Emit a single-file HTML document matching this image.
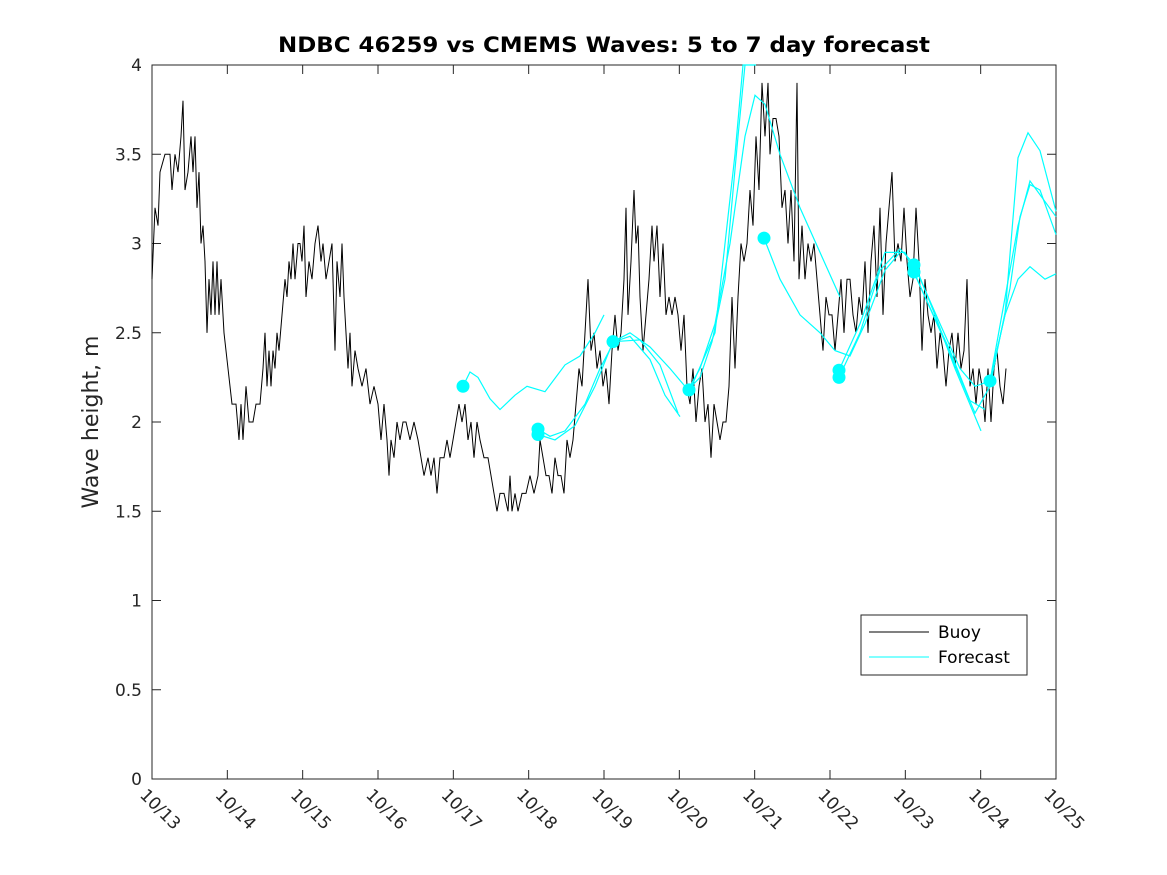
<!DOCTYPE html>
<html><head><meta charset="utf-8"><style>body{margin:0;background:#fff}svg{display:block}</style></head>
<body>
<svg id="s" width="1167" height="875" xmlns="http://www.w3.org/2000/svg" font-family="DejaVu Sans, Liberation Sans, sans-serif">
<rect width="1167" height="875" fill="#fff"/>
<rect x="152" y="65" width="904" height="714" fill="#fff" stroke="#262626" stroke-width="1"/>
<g id="ticks" stroke="#262626" stroke-width="1"></g>
<g id="lbl" font-size="17" fill="#262626"></g>
<g id="buoy"></g>
<g id="fc"></g>
<text x="604" y="52" text-anchor="middle" font-size="21" font-weight="bold" fill="#000" textLength="652" lengthAdjust="spacingAndGlyphs">NDBC 46259 vs CMEMS Waves: 5 to 7 day forecast</text>
<text transform="translate(98,422) rotate(-90)" text-anchor="middle" font-size="22" fill="#262626">Wave height, m</text>
<rect x="861" y="615" width="166" height="60" fill="#fff" stroke="#262626"/>
<line x1="869" y1="632" x2="929" y2="632" stroke="#000"/>
<line x1="869" y1="657" x2="929" y2="657" stroke="#00ffff"/>
<text x="938" y="638" font-size="17" fill="#000">Buoy</text>
<text x="938" y="663" font-size="17" fill="#000">Forecast</text>
</svg>
<script>
const NS="http://www.w3.org/2000/svg";
const Y=v=>779-v*178.5;
function el(p,t,a){const e=document.createElementNS(NS,t);for(const k in a)e.setAttribute(k,a[k]);document.getElementById(p).appendChild(e);return e;}
for(let i=0;i<=8;i++){const v=i*0.5,y=Y(v);
 el("ticks","line",{x1:152,y1:y,x2:161,y2:y});el("ticks","line",{x1:1056,y1:y,x2:1047,y2:y});
 const t=el("lbl","text",{x:142,y:y+6,"text-anchor":"end"});t.textContent=String(v);}
for(let i=0;i<=12;i++){const x=152+i*904/12;
 el("ticks","line",{x1:x,y1:779,x2:x,y2:770});el("ticks","line",{x1:x,y1:65,x2:x,y2:74});
 const t=el("lbl","text",{transform:`translate(${x-13},${796}) rotate(45)`});t.textContent="10/"+(13+i);}
const b=[152,2.8,155,3.2,158,3.1,160,3.4,165,3.5,170,3.5,172,3.3,175,3.5,178,3.4,181,3.6,183,3.8,185,3.3,188,3.4,191,3.6,193,3.4,195,3.6,197,3.2,199,3.4,201,3.0,203,3.1,205,2.9,207,2.5,209,2.8,211,2.6,213,2.9,215,2.6,217,2.9,219,2.6,221,2.8,224,2.5,228,2.3,232,2.1,236,2.1,239,1.9,241,2.1,243,1.9,246,2.2,249,2.0,253,2.0,256,2.1,260,2.1,263,2.3,265,2.5,267,2.2,269,2.4,271,2.2,273,2.4,275,2.3,277,2.5,279,2.4,282,2.6,285,2.8,287,2.7,289,2.9,291,2.8,293,3.0,295,2.8,298,3.0,300,3.0,302,2.9,304,3.1,306,2.7,309,2.9,312,2.8,315,3.0,318,3.1,321,2.9,323,3.0,326,2.8,329,2.9,332,3.0,335,2.4,337,2.9,340,2.7,342,3.0,344,2.7,346,2.5,348,2.3,350,2.5,352,2.2,355,2.4,358,2.3,362,2.2,366,2.3,370,2.1,374,2.2,378,2.1,381,1.9,384,2.1,387,1.9,389,1.7,391,1.9,394,1.8,397,2.0,400,1.9,403,2.0,406,2.0,410,1.9,414,2.0,418,1.9,421,1.8,424,1.7,428,1.8,431,1.7,434,1.8,437,1.6,440,1.8,444,1.8,447,1.9,450,1.8,453,1.9,456,2.0,459,2.1,462,2.0,465,2.1,468,1.9,471,2.0,474,1.8,477,2.0,480,1.9,484,1.8,488,1.8,491,1.7,494,1.6,497,1.5,500,1.6,504,1.6,508,1.5,510,1.7,512,1.5,515,1.6,518,1.5,522,1.6,526,1.6,530,1.7,534,1.6,538,1.7,540,1.9,543,1.8,546,1.7,549,1.7,552,1.6,555,1.8,558,1.7,561,1.7,564,1.6,567,1.9,570,1.8,573,1.9,576,2.1,579,2.3,582,2.2,585,2.5,588,2.8,591,2.4,594,2.5,597,2.3,600,2.4,603,2.2,606,2.3,609,2.1,612,2.4,615,2.6,618,2.4,621,2.5,624,2.8,626,3.2,628,2.6,631,2.9,634,3.3,636,3.0,638,3.1,640,2.7,643,2.4,646,2.6,649,2.8,652,3.1,654,2.9,657,3.1,660,2.7,663,3.0,666,2.6,669,2.7,672,2.6,675,2.7,678,2.6,681,2.4,684,2.6,687,2.2,690,2.1,693,2.3,696,2.0,699,2.2,702,2.3,705,2.0,708,2.1,711,1.8,714,2.1,717,2.0,720,1.9,723,2.0,726,2.0,729,2.2,732,2.7,735,2.3,738,2.7,741,3.0,744,2.9,747,3.0,750,3.3,753,3.1,756,3.6,759,3.3,762,3.9,765,3.6,768,3.9,770,3.5,773,3.7,776,3.7,779,3.6,782,3.2,785,3.3,788,3.0,791,3.3,794,2.9,797,3.9,799,2.8,802,3.1,805,2.8,808,3.0,811,2.9,814,3.0,817,2.8,820,2.6,823,2.4,826,2.7,829,2.6,832,2.6,835,2.4,838,2.6,841,2.8,844,2.5,847,2.8,850,2.8,853,2.6,856,2.5,859,2.7,862,2.6,865,2.9,868,2.5,871,2.9,874,3.1,877,2.7,880,3.2,883,2.6,886,3.0,889,3.2,892,3.4,895,2.9,898,3.0,901,2.9,904,3.2,907,2.9,910,2.7,913,2.8,916,3.2,919,2.9,922,2.4,925,2.8,928,2.6,931,2.5,934,2.6,937,2.3,940,2.5,943,2.4,946,2.2,949,2.4,952,2.5,955,2.3,958,2.5,961,2.3,964,2.4,967,2.8,970,2.2,973,2.3,976,2.1,979,2.3,982,2.2,985,2.0,988,2.3,991,2.0,994,2.3,997,2.4,1000,2.2,1003,2.1,1006,2.3];
function pts(a){let s=[];for(let i=0;i<a.length;i+=2)s.push(a[i]+","+Y(a[i+1]).toFixed(1));return s.join(" ");}
el("buoy","polyline",{points:pts(b),fill:"none",stroke:"#000","stroke-width":1});
const F=[
[463,2.2,470,2.28,478,2.25,490,2.13,500,2.07,515,2.15,527,2.2,545,2.17,565,2.32,580,2.37,595,2.5,604,2.6],
[538,1.96,550,1.92,565,1.95,585,2.1,600,2.3,614,2.45,630,2.48,650,2.35,665,2.15,680,2.03],
[538,1.93,555,1.9,575,1.98,595,2.2,613,2.45,640,2.46,660,2.32,678,2.05],
[613,2.45,630,2.5,650,2.42,670,2.3,688,2.18,700,2.25,712,2.45,725,2.8,738,3.6,745,4.0],
[688,2.18,700,2.3,715,2.55,730,3.0,745,3.6,755,3.83,765,3.78,780,3.5,800,3.2,820,2.95,840,2.7],
[690,2.18,715,2.5,735,3.5,743,4.0,756,4.0],
[764,3.03,780,2.8,800,2.6,820,2.5,835,2.4,850,2.37,865,2.55,885,2.85,900,2.95],
[839,2.25,860,2.5,880,2.85,900,2.97,915,2.88,935,2.6,955,2.3,981,1.95],
[839,2.29,860,2.55,885,2.95,905,2.95,925,2.7,950,2.4,970,2.12,985,2.07],
[914,2.88,940,2.55,960,2.3,975,2.2,990,2.23,1005,2.6,1018,3.48,1028,3.62,1040,3.52,1056,3.18],
[914,2.84,945,2.45,975,2.05,990,2.2,1010,2.75,1020,3.15,1030,3.33,1040,3.3,1056,3.05],
[990,2.23,1005,2.6,1018,2.8,1030,2.87,1045,2.8,1056,2.83],
[990,2.23,1018,3.1,1030,3.35,1056,3.15]];
F.forEach(a=>el("fc","polyline",{points:pts(a),fill:"none",stroke:"#00ffff","stroke-width":1.2}));
[[463,2.2],[538,1.96],[538,1.93],[613,2.45],[689,2.18],[764,3.03],[839,2.29],[839,2.25],[914,2.88],[914,2.84],[990,2.23]].forEach(c=>el("fc","circle",{cx:c[0],cy:Y(c[1]),r:6.5,fill:"#00ffff"}));
</script>
</body></html>
